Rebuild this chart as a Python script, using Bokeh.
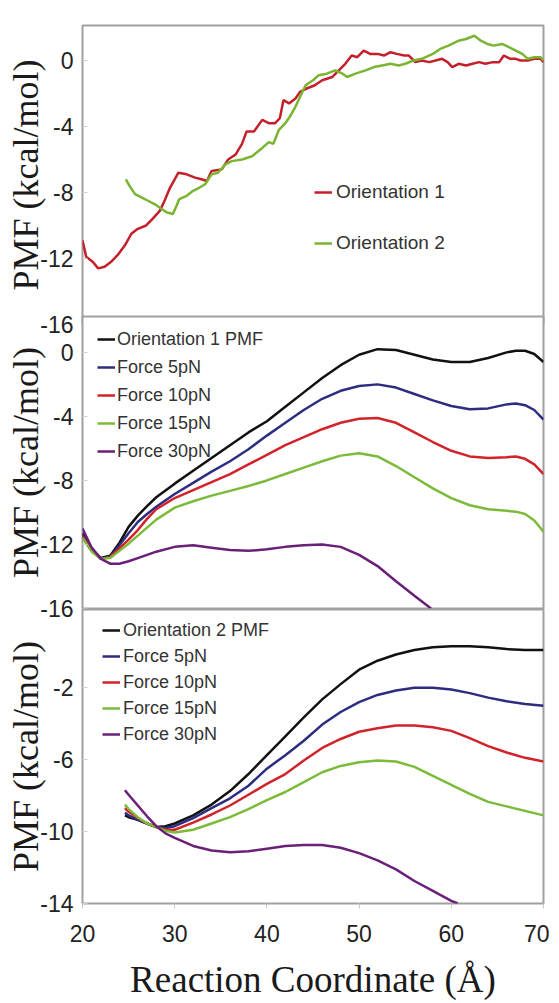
from bokeh.plotting import figure
from bokeh.models import Range1d, FixedTicker, Legend, LegendItem, LinearAxis, CustomJSTickFormatter
from bokeh.layouts import column
from bokeh.embed import file_html
from bokeh.resources import INLINE

# ---------------- data ----------------
# Panel 1: raw PMF profiles
o1_x = [20.0, 20.4, 21.1, 21.7, 22.4, 23.1, 23.8, 24.6, 25.3, 26.0, 26.9, 27.6, 28.4, 28.9, 29.5, 30.0,
        30.4, 31.3, 32.2, 32.9, 33.5, 34.0, 35.1, 35.8, 36.6, 37.3, 37.8, 38.6, 39.5, 40.2, 40.9, 41.4,
        41.8, 42.4, 43.1, 43.6, 44.3, 45.2, 46.0, 47.1, 47.8, 48.5, 49.2, 49.8, 50.5, 51.2, 52.0, 52.7,
        53.4, 54.1, 54.9, 55.4, 56.1, 56.8, 57.6, 58.3, 59.0, 59.6, 60.1, 60.8, 61.6, 62.3, 63.0, 63.7,
        64.5, 65.2, 65.7, 66.4, 67.0, 67.5, 68.3, 69.0, 69.7, 70.0]
o1_y = [-10.9, -11.9, -12.2, -12.6, -12.5, -12.2, -11.8, -11.2, -10.5, -10.2, -10.0, -9.6, -9.1, -8.5, -7.7, -7.2,
        -6.8, -6.9, -7.1, -7.2, -7.3, -6.7, -6.6, -6.0, -5.7, -5.05, -4.3, -4.3, -3.6, -3.8, -3.8, -3.5,
        -2.4, -2.6, -2.3, -1.9, -1.7, -1.5, -1.2, -1.0, -0.6, -0.2, 0.3, 0.2, 0.6, 0.4, 0.4, 0.3,
        0.5, 0.4, 0.3, 0.3, -0.1, 0.0, -0.1, 0.0, 0.1, -0.1, -0.4, -0.2, -0.3, -0.2, -0.1, -0.2,
        -0.1, -0.1, 0.3, 0.1, 0.1, 0.0, 0.0, 0.1, 0.1, -0.1]

o2_x = [24.7, 25.1, 25.7, 26.4, 27.1, 27.8, 28.6, 29.1, 29.8, 30.2, 30.5, 31.3, 32.0, 32.7, 33.3, 34.0,
        34.7, 35.5, 36.2, 37.3, 38.4, 39.5, 40.2, 40.7, 41.3, 42.0, 42.5, 43.1, 43.6, 44.2, 45.0, 45.6,
        46.5, 47.4, 48.2, 48.7, 49.6, 50.7, 51.6, 52.5, 53.4, 54.3, 55.0, 55.9, 56.8, 58.0, 58.8, 59.7,
        60.8, 61.6, 62.5, 63.2, 63.9, 64.6, 65.5, 66.3, 67.0, 67.7, 68.3, 69.0, 69.7, 70.0]
o2_y = [-7.2, -7.6, -8.1, -8.3, -8.5, -8.7, -9.0, -9.2, -9.3, -8.8, -8.4, -8.2, -7.9, -7.7, -7.5, -6.9,
        -6.8, -6.3, -6.1, -6.0, -5.8, -5.3, -4.95, -5.05, -4.2, -3.8, -3.4, -2.8, -2.2, -1.5, -1.2, -0.9,
        -0.8, -0.6, -0.8, -1.0, -0.8, -0.6, -0.4, -0.3, -0.2, -0.3, -0.2, 0.0, 0.1, 0.4, 0.7, 0.9,
        1.2, 1.3, 1.5, 1.2, 1.0, 0.9, 1.0, 0.8, 0.6, 0.4, 0.1, 0.2, 0.2, 0.0]

# Panel 2: Orientation 1 under force
p2_x = [20, 21, 22, 23, 24, 25, 26, 27, 28, 30, 32, 34, 36, 38, 40, 42, 44, 46, 48, 50,
        52, 54, 56, 58, 60, 62, 64, 66, 67, 68, 69, 70]
p2_pmf = [-11.3, -12.3, -12.85, -12.7, -11.9, -10.9, -10.2, -9.6, -9.05, -8.2, -7.4, -6.6, -5.8, -5.0, -4.3, -3.4,
          -2.5, -1.6, -0.8, -0.15, 0.2, 0.15, -0.15, -0.45, -0.6, -0.6, -0.35, 0.0, 0.1, 0.1, -0.1, -0.6]
p2_f5 = [-11.4, -12.35, -12.9, -12.75, -12.05, -11.3, -10.6, -10.1, -9.65, -8.85, -8.15, -7.45, -6.8, -6.05, -5.2, -4.4,
         -3.6, -2.9, -2.4, -2.1, -2.0, -2.2, -2.6, -3.0, -3.35, -3.55, -3.5, -3.25, -3.2, -3.3, -3.6, -4.2]
p2_f10 = [-11.5, -12.4, -12.9, -12.8, -12.25, -11.7, -11.1, -10.4, -9.8, -9.1, -8.6, -8.1, -7.6, -7.0, -6.4, -5.8,
          -5.3, -4.8, -4.4, -4.15, -4.1, -4.4, -5.0, -5.6, -6.15, -6.5, -6.6, -6.55, -6.5, -6.65, -7.0, -7.6]
p2_f15 = [-11.6, -12.45, -12.9, -12.85, -12.4, -11.95, -11.45, -10.95, -10.45, -9.7, -9.3, -8.95, -8.65, -8.35, -8.0, -7.6,
          -7.2, -6.8, -6.45, -6.3, -6.5, -7.1, -7.8, -8.5, -9.1, -9.55, -9.8, -9.9, -9.95, -10.1, -10.5, -11.2]
p2_f30_x = [20, 21, 22, 23, 24, 25, 26, 27, 28, 30, 32, 34, 36, 38, 40, 42, 44, 46, 48, 50, 52, 54, 56, 57.8]
p2_f30 = [-11.0, -12.2, -12.9, -13.2, -13.2, -13.05, -12.85, -12.65, -12.45, -12.15, -12.05, -12.2, -12.35, -12.4,
          -12.3, -12.15, -12.05, -12.0, -12.15, -12.65, -13.35, -14.3, -15.2, -16.0]

# Panel 3: Orientation 2 under force
p3_x = [24.6, 25, 26, 27, 28, 29, 30, 32, 34, 36, 38, 40, 42, 44, 46, 48, 50, 52, 54, 56, 58, 60,
        62, 64, 66, 68, 70]
p3_pmf = [-9.1, -9.2, -9.35, -9.55, -9.75, -9.7, -9.55, -9.1, -8.5, -7.75, -6.8, -5.75, -4.7, -3.65, -2.65, -1.8,
          -1.0, -0.5, -0.15, 0.1, 0.25, 0.3, 0.3, 0.25, 0.15, 0.1, 0.1]
p3_f5 = [-8.95, -9.1, -9.35, -9.55, -9.75, -9.8, -9.7, -9.25, -8.7, -8.15, -7.45, -6.5, -5.75, -4.95, -4.05, -3.35,
         -2.8, -2.4, -2.15, -2.0, -2.0, -2.1, -2.3, -2.55, -2.75, -2.9, -3.0]
p3_f10 = [-8.7, -8.9, -9.25, -9.55, -9.75, -9.9, -9.9, -9.5, -9.05, -8.55, -7.95, -7.35, -6.8, -6.05, -5.35, -4.85,
          -4.45, -4.25, -4.1, -4.1, -4.2, -4.4, -4.8, -5.25, -5.6, -5.9, -6.1]
p3_f15 = [-8.5, -8.75, -9.2, -9.55, -9.75, -9.95, -10.05, -9.9, -9.55, -9.2, -8.75, -8.25, -7.8, -7.25, -6.7, -6.35,
          -6.15, -6.05, -6.1, -6.4, -6.9, -7.4, -7.9, -8.35, -8.6, -8.85, -9.1]
p3_f30_x = [24.6, 25, 26, 27, 28, 29, 30, 32, 34, 36, 38, 40, 42, 44, 46, 48, 50, 52, 54, 56, 58, 60, 60.7]
p3_f30 = [-7.7, -7.95, -8.55, -9.15, -9.7, -10.1, -10.35, -10.8, -11.05, -11.15, -11.1, -10.95, -10.8, -10.75,
          -10.75, -10.9, -11.2, -11.6, -12.1, -12.75, -13.3, -13.85, -14.0]

x_ticks = [20, 30, 40, 50, 60, 70]
y_ticks_1 = [0, -4, -8, -12, -16]
y_ticks_2 = [0, -4, -8, -12, -16]
y_ticks_3 = [-2, -6, -10, -14]

labels_1 = ["Orientation 1", "Orientation 2"]
labels_2 = ["Orientation 1 PMF", "Force 5pN", "Force 10pN", "Force 15pN", "Force 30pN"]
labels_3 = ["Orientation 2 PMF", "Force 5pN", "Force 10pN", "Force 15pN", "Force 30pN"]

C_BLACK = "#111111"
C_BLUE = "#2c2c80"
C_RED = "#d2232a"
C_GREEN = "#7cbb3a"
C_PURPLE = "#6a1f78"
C_TOP_RED = "#c4202b"
C_TOP_GREEN = "#79b531"

SANS = "Liberation Sans"
SERIF = "Liberation Serif"
WIDTH = 549

x_range = Range1d(20, 70)
hyphen_fmt = CustomJSTickFormatter(code="return tick.toFixed(0);")


def make_fig(height, y0, y1, yticks, mb_top, mb_bottom, margin_top, transparent):
    p = figure(width=WIDTH, height=height, x_range=x_range, y_range=Range1d(y0, y1),
               output_backend="svg", toolbar_location=None,
               x_axis_location=None,
               min_border_left=82, min_border_right=6,
               min_border_top=mb_top, min_border_bottom=mb_bottom,
               margin=(margin_top, 0, 0, 0))
    p.grid.visible = False
    p.outline_line_color = "#a0a0a0"
    p.outline_line_width = 2
    p.background_fill_color = "white"
    p.border_fill_color = "white"
    if transparent:
        p.border_fill_alpha = 0
    ax = p.yaxis[0]
    ax.ticker = FixedTicker(ticks=yticks)
    ax.formatter = hyphen_fmt
    ax.axis_line_color = None
    ax.major_tick_in = 5
    ax.major_tick_out = 0
    ax.major_tick_line_color = "#d0d0d0"
    ax.minor_tick_line_color = None
    ax.major_label_text_font = SANS
    ax.major_label_text_font_size = "23px"
    ax.major_label_text_color = "#222222"
    ax.major_label_standoff = 9
    ax.axis_label = "PMF (kcal/mol)"
    ax.axis_label_text_font = SERIF
    ax.axis_label_text_font_size = "36px"
    ax.axis_label_text_font_style = "normal"
    ax.axis_label_text_color = "#1a1a1a"
    ax.axis_label_standoff = -9
    return p


def add_legend(p, items, loc, spacing, standoff, font_size):
    lg = Legend(items=items, location=loc, padding=0, margin=0, spacing=spacing,
                glyph_width=18, glyph_height=24, label_height=24, label_standoff=standoff,
                border_line_color=None, background_fill_alpha=0,
                label_text_font=SANS, label_text_font_size=font_size,
                label_text_color="#333333")
    p.add_layout(lg)


# ---------- Panel 1 ----------
p1 = make_fig(340, -16, 2.12, y_ticks_1, 25, 16, 0, False)
r1 = p1.line(o1_x, o1_y, line_color=C_TOP_RED, line_width=2.5)
r2 = p1.line(o2_x, o2_y, line_color=C_TOP_GREEN, line_width=2.5)
add_legend(p1, [LegendItem(label=labels_1[0], renderers=[r1]),
                LegendItem(label=labels_1[1], renderers=[r2])],
           (232, 69), 27, 4, "19px")

# ---------- Panel 2 ----------
p2 = make_fig(309, -16, 2.24, y_ticks_2, 1, 16, -25, True)
s = [
    p2.line(p2_x, p2_pmf, line_color=C_BLACK, line_width=2.5),
    p2.line(p2_x, p2_f5, line_color=C_BLUE, line_width=2.5),
    p2.line(p2_x, p2_f10, line_color=C_RED, line_width=2.5),
    p2.line(p2_x, p2_f15, line_color=C_GREEN, line_width=2.5),
    p2.line(p2_f30_x, p2_f30, line_color=C_PURPLE, line_width=2.5),
]
add_legend(p2, [LegendItem(label=l, renderers=[r]) for l, r in zip(labels_2, s)],
           (15, 145), 4, 2, "18px")

# ---------- Panel 3 ----------
p3 = make_fig(394, -14, 2.35, y_ticks_3, 1, 97, -16, True)
xa = LinearAxis()
p3.add_layout(xa, "below")
xa.ticker = FixedTicker(ticks=x_ticks)
xa.axis_line_color = None
xa.major_tick_in = 0
xa.major_tick_out = 5
xa.major_tick_line_color = "#c8c8c8"
xa.minor_tick_line_color = None
xa.major_label_text_font = SANS
xa.major_label_text_font_size = "23px"
xa.major_label_text_color = "#222222"
xa.major_label_standoff = 16
xa.axis_label = "Reaction Coordinate (Å)"
xa.axis_label_text_font = SERIF
xa.axis_label_text_font_size = "37px"
xa.axis_label_text_font_style = "normal"
xa.axis_label_text_color = "#1a1a1a"
xa.axis_label_standoff = 14
t = [
    p3.line(p3_x, p3_pmf, line_color=C_BLACK, line_width=2.5),
    p3.line(p3_x, p3_f5, line_color=C_BLUE, line_width=2.5),
    p3.line(p3_x, p3_f10, line_color=C_RED, line_width=2.5),
    p3.line(p3_x, p3_f15, line_color=C_GREEN, line_width=2.5),
    p3.line(p3_f30_x, p3_f30, line_color=C_PURPLE, line_width=2.5),
]
add_legend(p3, [LegendItem(label=l, renderers=[r]) for l, r in zip(labels_3, t)],
           (20, 157), 2, 3, "18px")

layout = column(p1, p2, p3, spacing=0)
open("out.html", "w").write(file_html(layout, INLINE))
